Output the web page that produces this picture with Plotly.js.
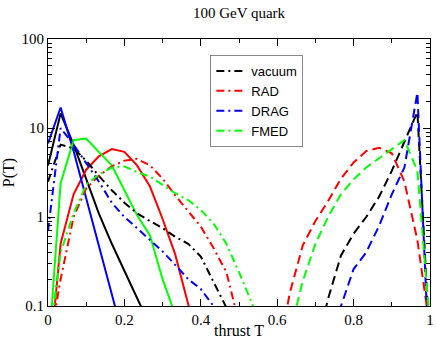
<html lang="en">
  <head>
    <meta charset="UTF-8" />
    <script src="https://cdn.plot.ly/plotly-3.0.1.min.js"></script>
    <title>100 GeV quark</title>
    <style>
      body { margin: 0; background: #fff; }
    </style>
  </head>
  <body>
    <div id="thrustPlot" style="width: 436px; height: 339px;"></div>
    <script>
      // thrust bins (centres)
      const thrust = [0, 0.033, 0.067, 0.1, 0.133, 0.167, 0.2, 0.233, 0.267, 0.3,
                      0.333, 0.367, 0.4, 0.433, 0.467, 0.5, 0.533, 0.567, 0.6, 0.633,
                      0.667, 0.7, 0.733, 0.767, 0.8, 0.833, 0.867, 0.9, 0.933, 0.967, 1];

      const names = ['vacuum', 'RAD', 'DRAG', 'FMED'];
      const colors = ['#000000', '#ff0000', '#0000ff', '#00ff00'];

      // solid: low-T branch
      const vacuumSolid = [3.8, 14.6, 6.5, 2.6, 1.1, 0.5, 0.25, 0.12, 0.06];
      const radSolid = [0.015, 0.5, 1.8, 3.4, 4.8, 5.8, 5.4, 3.8, 2.2, 0.95, 0.38, 0.1, 0.03];
      const dragSolid = [6.7, 17, 5.5, 1.6, 0.47, 0.14, 0.04];
      const fmedSolid = [0.025, 2.4, 7.3, 7.6, 5.4, 3.8, 2.0, 1.05, 0.62, 0.2, 0.08];

      // dash-dot: middle branch
      const vacuumDashDot = [2.5, 6.5, 5.9, 4.3, 2.9, 2.0, 1.45, 1.1, 0.9, 0.75, 0.6, 0.5, 0.36, 0.19, 0.1, 0.05];
      const radDashDot = [0.03, 0.2, 1.0, 2.1, 2.9, 3.7, 4.3, 4.5, 3.8, 2.7, 1.75, 1.15, 0.78, 0.45, 0.24, 0.065];
      const dragDashDot = [0.7, 10, 6.5, 4.0, 2.5, 1.45, 1.0, 0.75, 0.55, 0.41, 0.29, 0.2, 0.155, 0.1, 0.05];
      const fmedDashDot = [0.03, 0.4, 1.1, 2.3, 3.0, 3.6, 3.7, 3.2, 2.85, 2.3, 1.85, 1.55, 1.2, 0.85, 0.5, 0.24, 0.11, 0.04];

      // dashed: high-T branch (first bin index given separately)
      const vacuumDashed = [0.03, 0.12, 0.37, 0.65, 1.0, 1.7, 3.3, 7.0, 15.2, 0.032];
      const vacuumDashedStart = 21;
      const radDashed = [0.025, 0.14, 0.48, 0.9, 1.5, 2.7, 4.1, 5.5, 6.0, 5.2, 2.5, 0.55, 0.055];
      const radDashedStart = 18;
      const dragDashed = [0.03, 0.1, 0.26, 0.4, 0.8, 1.8, 3.6, 25, 0.014];
      const dragDashedStart = 22;
      const fmedDashed = [0.05, 0.19, 0.5, 1.0, 1.8, 2.65, 3.6, 4.6, 5.8, 7.3, 3.3, 0.06];
      const fmedDashedStart = 19;

      const dashDotStyle = '8px,4px,2px,4px';
      const dashStyle = '9px,5px';

      function makeTrace(values, start, i, dash, legend) {
          return {
              x: thrust.slice(start, start + values.length),
              y: values,
              type: 'scatter',
              mode: 'lines',
              name: names[i],
              showlegend: legend,
              line: { color: colors[i], width: 2, dash: dash }
          };
      }

      const traces = [
          makeTrace(vacuumSolid, 0, 0, 'solid', false),
          makeTrace(radSolid, 0, 1, 'solid', false),
          makeTrace(dragSolid, 0, 2, 'solid', false),
          makeTrace(fmedSolid, 0, 3, 'solid', false),
          makeTrace(vacuumDashed, vacuumDashedStart, 0, dashStyle, false),
          makeTrace(radDashed, radDashedStart, 1, dashStyle, false),
          makeTrace(dragDashed, dragDashedStart, 2, dashStyle, false),
          makeTrace(fmedDashed, fmedDashedStart, 3, dashStyle, false),
          makeTrace(vacuumDashDot, 0, 0, dashDotStyle, true),
          makeTrace(radDashDot, 0, 1, dashDotStyle, true),
          makeTrace(dragDashDot, 0, 2, dashDotStyle, true),
          makeTrace(fmedDashDot, 0, 3, dashDotStyle, true)
      ];

      const serif = { family: 'Liberation Serif, Times New Roman, serif', color: '#000', size: 15 };

      const layout = {
          width: 436,
          height: 339,
          margin: { l: 48, r: 6, t: 39, b: 33 },
          paper_bgcolor: '#fff',
          plot_bgcolor: '#fff',
          title: {
              text: '100 GeV quark',
              font: { family: serif.family, size: 15, color: '#000' },
              x: 0.5, xref: 'paper', y: 0.963, yref: 'container', yanchor: 'middle'
          },
          xaxis: {
              range: [0, 1],
              dtick: 0.2,
              tickformat: '.1~f',
              ticks: 'inside',
              ticklen: 7,
              tickcolor: '#000',
              showline: true,
              linecolor: '#000',
              linewidth: 1,
              mirror: 'ticks',
              showgrid: false,
              zeroline: false,
              minor: { dtick: 0.1, ticks: 'inside', ticklen: 4, tickcolor: '#000', showgrid: false },
              tickfont: serif,
              title: { text: 'thrust T', font: { family: serif.family, size: 16, color: '#000' }, standoff: 1 }
          },
          yaxis: {
              type: 'log',
              range: [-1, 2],
              tickvals: [0.1, 1, 10, 100],
              ticktext: ['0.1', '1', '10', '100'],
              ticks: 'inside',
              ticklen: 7,
              tickcolor: '#000',
              showline: true,
              linecolor: '#000',
              linewidth: 1,
              mirror: 'ticks',
              showgrid: false,
              zeroline: false,
              minor: { dtick: 'D1', ticks: 'inside', ticklen: 4, tickcolor: '#000', showgrid: false },
              tickfont: serif,
              title: { text: 'P(T)', font: { family: serif.family, size: 16, color: '#000' }, standoff: 2 }
          },
          legend: {
              x: 0.425, y: 0.94, xanchor: 'left', yanchor: 'top',
              bgcolor: '#fff',
              bordercolor: '#888',
              borderwidth: 1,
              tracegroupgap: 0,
              itemwidth: 30,
              font: { family: 'Liberation Sans, Arial, sans-serif', size: 13, color: '#000' }
          }
      };

      Plotly.newPlot('thrustPlot', traces, layout, { displayModeBar: false, staticPlot: true });
    </script>
  </body>
</html>
